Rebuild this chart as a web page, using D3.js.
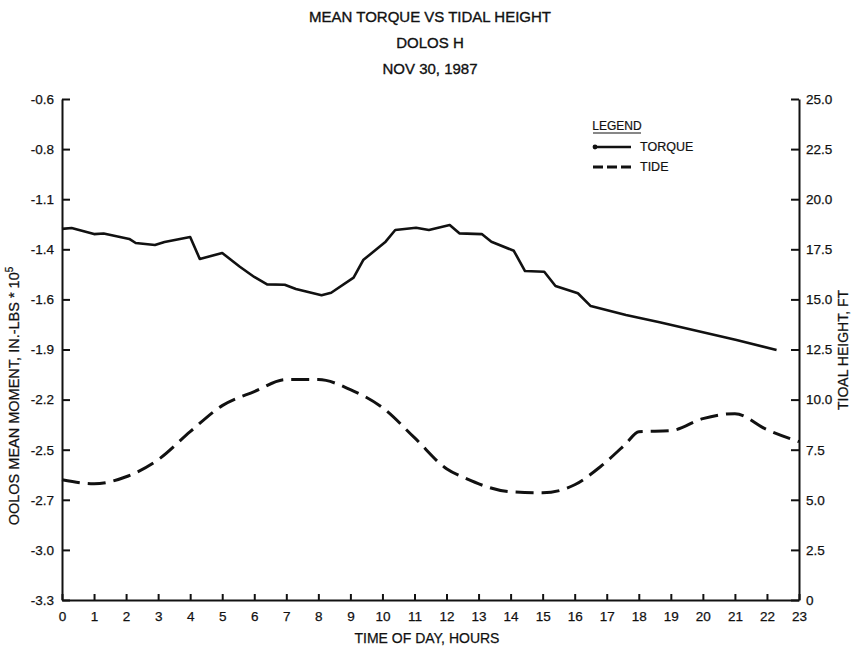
<!DOCTYPE html>
<html>
<head>
<meta charset="utf-8">
<script src="https://cdn.jsdelivr.net/npm/d3@7"></script>
<style>
  body { margin: 0; background: #fff; }
  svg { font-family: "Liberation Sans", Arial, Helvetica, sans-serif; }
</style>
</head>
<body>
<script>
// torque readings (hour, mean moment in in.-lbs * 10^5)
var torqueHours = [0, 0.3, 1.0, 1.3, 2.1, 2.3, 2.9, 3.2, 4.0, 4.3, 5.0, 5.55, 6.0, 6.4, 6.95, 7.3,
  8.1, 8.4, 9.1, 9.4, 10.1, 10.4, 11.05, 11.45, 12.1, 12.4, 13.1, 13.4, 14.1, 14.45, 15.05, 15.4,
  16.1, 16.5, 17.6, 18.65, 21.05, 22.3]
var torqueValues = [-1.30, -1.295, -1.328, -1.325, -1.354, -1.376, -1.387, -1.371, -1.344, -1.462,
  -1.430, -1.504, -1.559, -1.599, -1.601, -1.624, -1.658, -1.644, -1.563, -1.468, -1.369, -1.306,
  -1.294, -1.306, -1.279, -1.324, -1.328, -1.369, -1.418, -1.527, -1.531, -1.608, -1.647, -1.716,
  -1.764, -1.803, -1.899, -1.953]

// tide readings (hour, ft)
var tideHours = [0, 1, 2, 3, 4, 5, 6, 7, 8, 9, 10, 11, 12, 12.6, 14, 15, 16, 16.8, 17.6, 18, 19, 20, 21, 22, 23]
var tideValues = [6.0, 5.8, 6.15, 7.0, 8.4, 9.7, 10.4, 11.0, 11.0, 10.5, 9.6, 8.1, 6.55, 6.07, 5.4,
  5.35, 5.75, 6.65, 7.8, 8.4, 8.45, 9.05, 9.3, 8.5, 7.9]

var hourTicks = d3.range(0, 24)
var momentLabels = ['-3.3', '-3.0', '-2.7', '-2.5', '-2.2', '-1.9', '-1.6', '-1.4', '-1.1', '-0.8', '-0.6']
var tideTicks = [0, 2.5, 5, 7.5, 10, 12.5, 15, 17.5, 20, 22.5, 25]

var titleLines = ['MEAN TORQUE VS TIDAL HEIGHT', 'DOLOS H', 'NOV 30, 1987']

var W = 855, H = 647
var plotL = 62, plotR = 799, plotT = 99, plotB = 600
var ink = '#111'

var svg = d3.select('body').append('svg')
    .attr('width', W)
    .attr('height', H)

var x = d3.scaleLinear().domain([0, 23]).range([plotL, plotR])
var yL = d3.scaleLinear().domain([-3.3, -0.6]).range([plotB, plotT])
var yR = d3.scaleLinear().domain([0, 25]).range([plotB, plotT])

var momentTicks = momentLabels.map(function(d, i) { return -3.3 + i * 0.27 })

// axes
svg.append('g')
    .attr('transform', 'translate(' + plotL + ',0)')
    .call(d3.axisLeft(yL).tickValues(momentTicks).tickSizeInner(-8).tickSizeOuter(0).tickPadding(8)
      .tickFormat(function(d, i) { return momentLabels[i] }))

svg.append('g')
    .attr('transform', 'translate(' + plotR + ',0)')
    .call(d3.axisRight(yR).tickValues(tideTicks).tickSizeInner(-8).tickSizeOuter(0).tickPadding(7)
      .tickFormat(function(d) { return d === 0 ? '0' : d3.format('.1f')(d) }))

svg.append('g')
    .attr('transform', 'translate(0,' + plotB + ')')
    .call(d3.axisBottom(x).tickValues(hourTicks).tickSizeInner(-6).tickSizeOuter(0).tickPadding(11))

svg.selectAll('.domain').attr('stroke', ink).attr('stroke-width', 2)
svg.selectAll('.tick line').attr('stroke', ink).attr('stroke-width', 2)
svg.selectAll('.tick text')
    .attr('fill', ink)
    .attr('stroke', ink)
    .attr('stroke-width', 0.25)
    .attr('font-size', 13.5)
    .attr('font-family', null)

// lines
var torqueLine = d3.line()
    .x(function(d, i) { return x(torqueHours[i]) })
    .y(function(d) { return yL(d) })

var tideLine = d3.line()
    .curve(d3.curveMonotoneX)
    .x(function(d, i) { return x(tideHours[i]) })
    .y(function(d) { return yR(d) })

svg.append('path')
    .attr('d', torqueLine(torqueValues))
    .attr('fill', 'none')
    .attr('stroke', ink)
    .attr('stroke-width', 2.6)
    .attr('stroke-linejoin', 'round')

svg.append('path')
    .attr('d', tideLine(tideValues))
    .attr('fill', 'none')
    .attr('stroke', ink)
    .attr('stroke-width', 3)
    .attr('stroke-dasharray', '18,8')

// title
svg.selectAll('text.title')
    .data(titleLines)
    .enter().append('text')
    .attr('class', 'title')
    .attr('x', 430)
    .attr('y', function(d, i) { return 22 + i * 26 })
    .attr('text-anchor', 'middle')
    .attr('font-size', 15)
    .attr('fill', ink)
    .attr('stroke', ink)
    .attr('stroke-width', 0.35)
    .text(function(d) { return d })

// axis titles
svg.append('text')
    .attr('x', 427)
    .attr('y', 643)
    .attr('text-anchor', 'middle')
    .attr('font-size', 14)
    .attr('fill', ink)
    .attr('stroke', ink)
    .attr('stroke-width', 0.25)
    .text('TIME OF DAY, HOURS')

var lt = svg.append('text')
    .attr('transform', 'translate(19,396) rotate(-90)')
    .attr('text-anchor', 'middle')
    .attr('font-size', 14.5)
    .attr('fill', ink)
    .attr('stroke', ink)
    .attr('stroke-width', 0.25)
lt.append('tspan').text('OOLOS MEAN MOMENT, IN.-LBS * 10')
lt.append('tspan').attr('font-size', 10).attr('dy', -6).text('5')

svg.append('text')
    .attr('transform', 'translate(848,350) rotate(-90)')
    .attr('text-anchor', 'middle')
    .attr('font-size', 14)
    .attr('fill', ink)
    .attr('stroke', ink)
    .attr('stroke-width', 0.25)
    .text('TIOAL HEIGHT, FT')

// legend
var lg = svg.append('g').attr('transform', 'translate(593,0)')
lg.append('text')
    .attr('x', 24).attr('y', 130)
    .attr('text-anchor', 'middle')
    .attr('font-size', 12)
    .attr('fill', ink)
    .attr('stroke', ink)
    .attr('stroke-width', 0.2)
    .text('LEGEND')
lg.append('line')
    .attr('x1', 0).attr('x2', 48).attr('y1', 133).attr('y2', 133)
    .attr('stroke', ink).attr('stroke-width', 1.2)
lg.append('line')
    .attr('x1', 2).attr('x2', 38).attr('y1', 147).attr('y2', 147)
    .attr('stroke', ink).attr('stroke-width', 2.4)
lg.append('circle')
    .attr('cx', 2).attr('cy', 147).attr('r', 2.4)
    .attr('fill', ink)
lg.append('text')
    .attr('x', 47).attr('y', 151)
    .attr('font-size', 12.5)
    .attr('fill', ink)
    .attr('stroke', ink)
    .attr('stroke-width', 0.2)
    .text('TORQUE')
lg.append('line')
    .attr('x1', 0).attr('x2', 38).attr('y1', 167).attr('y2', 167)
    .attr('stroke', ink).attr('stroke-width', 3)
    .attr('stroke-dasharray', '10,4')
lg.append('text')
    .attr('x', 47).attr('y', 171)
    .attr('font-size', 12.5)
    .attr('fill', ink)
    .attr('stroke', ink)
    .attr('stroke-width', 0.2)
    .text('TIDE')
</script>
</body>
</html>
